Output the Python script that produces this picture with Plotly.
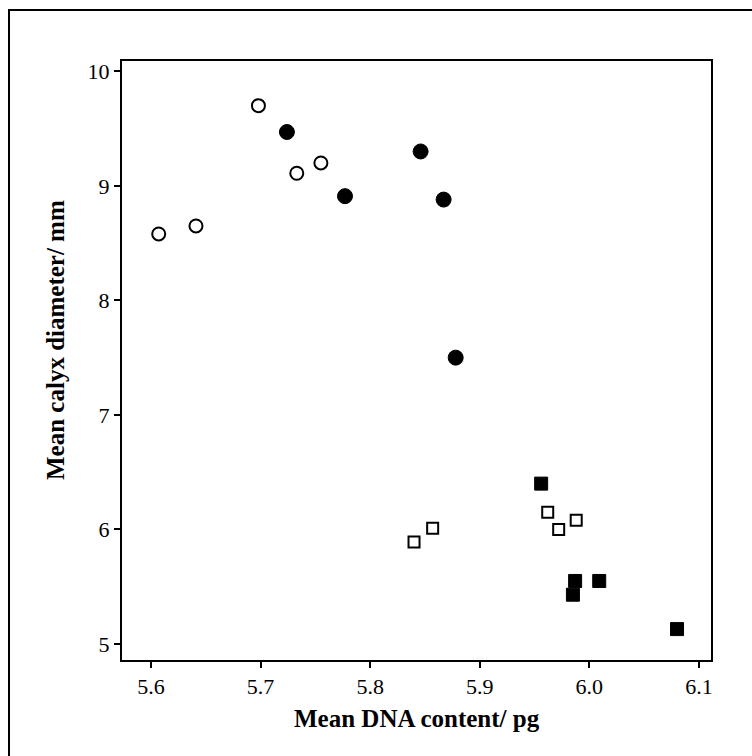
import plotly.graph_objects as go

open_circ_x = [5.607, 5.641, 5.698, 5.733, 5.755]
open_circ_y = [8.58, 8.65, 9.70, 9.11, 9.20]
fill_circ_x = [5.724, 5.777, 5.846, 5.867, 5.878]
fill_circ_y = [9.47, 8.91, 9.30, 8.88, 7.50]
open_sq_x = [5.840, 5.857, 5.962, 5.972, 5.988]
open_sq_y = [5.89, 6.01, 6.15, 6.00, 6.08]
fill_sq_x = [5.956, 5.987, 5.985, 6.009, 6.080]
fill_sq_y = [6.40, 5.55, 5.43, 5.55, 5.13]

x_ticks = [5.6, 5.7, 5.8, 5.9, 6.0, 6.1]
x_tick_labels = ["5.6", "5.7", "5.8", "5.9", "6.0", "6.1"]
y_ticks = [5, 6, 7, 8, 9, 10]

FONT = "Liberation Serif"

L, R, T, B = 122, 711, 61, 660
W, H = 752, 756
pw, ph = R - L, B - T

fig = go.Figure()
fig.add_trace(go.Scatter(x=open_circ_x, y=open_circ_y, mode="markers",
                         marker=dict(symbol="circle", size=13, color="white",
                                     line=dict(color="black", width=2))))
fig.add_trace(go.Scatter(x=fill_circ_x, y=fill_circ_y, mode="markers",
                         marker=dict(symbol="circle", size=15, color="black",
                                     line=dict(color="black", width=1))))
fig.add_trace(go.Scatter(x=open_sq_x, y=open_sq_y, mode="markers",
                         marker=dict(symbol="square", size=11, color="white",
                                     line=dict(color="black", width=2))))
fig.add_trace(go.Scatter(x=fill_sq_x, y=fill_sq_y, mode="markers",
                         marker=dict(symbol="square", size=13, color="black",
                                     line=dict(color="black", width=1))))

fig.update_layout(
    width=W, height=H,
    margin=dict(l=L, r=W - R, t=T, b=H - B),
    paper_bgcolor="white", plot_bgcolor="white",
    showlegend=False,
    font=dict(family=FONT, size=22, color="black"),
    xaxis=dict(range=[5.5735, 6.111], tickvals=x_ticks, ticktext=x_tick_labels,
               showgrid=False, zeroline=False, showline=True, linecolor="black",
               linewidth=2, mirror=True, ticks="outside", ticklen=6, tickwidth=2,
               tickcolor="black"),
    yaxis=dict(range=[4.86, 10.09], tickvals=y_ticks,
               showgrid=False, zeroline=False, showline=True, linecolor="black",
               linewidth=2, mirror=True, ticks="outside", ticklen=6, tickwidth=2,
               tickcolor="black"),
)
fig.add_annotation(text="<b>Mean DNA content/ pg</b>", xref="paper", yref="paper",
                   x=0.5, y=(B - 718) / ph, xanchor="center", yanchor="middle",
                   showarrow=False, font=dict(family=FONT, size=25))
fig.add_annotation(text="<b>Mean calyx diameter/ mm</b>", xref="paper", yref="paper",
                   x=(55 - L) / pw, y=(B - 340) / ph, xanchor="center", yanchor="middle",
                   textangle=-90, showarrow=False, font=dict(family=FONT, size=25))
# outer frame: left and top edges visible, right and bottom run past the image
fig.add_shape(type="rect", xref="paper", yref="paper",
              x0=(9 - L) / pw, x1=(770 - L) / pw, y0=(B - 775) / ph, y1=(B - 10) / ph,
              line=dict(color="black", width=2), fillcolor="rgba(0,0,0,0)")

fig.write_html("out.html")
